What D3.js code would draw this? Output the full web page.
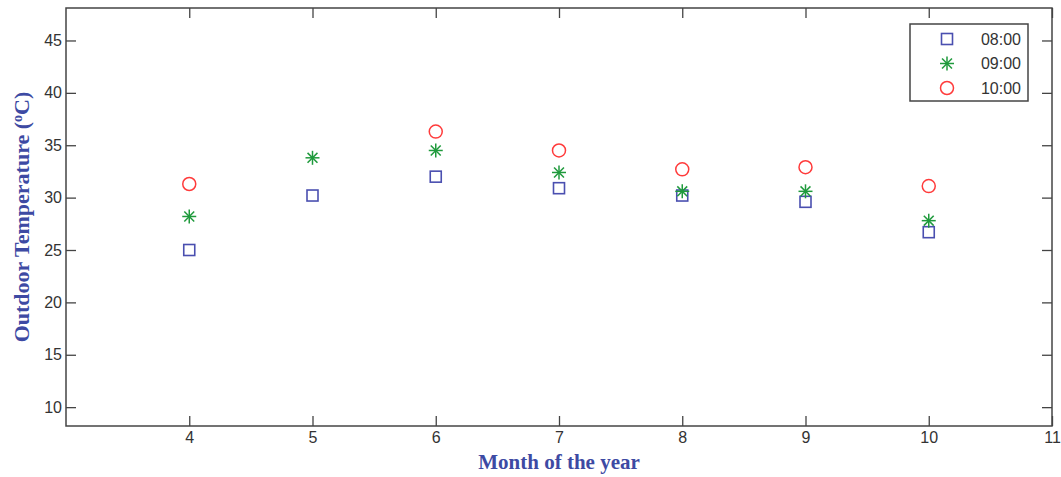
<!DOCTYPE html>
<html>
<head>
<meta charset="utf-8">
<script src="https://cdn.jsdelivr.net/npm/d3@7"></script>
<style>
	body { margin: 0; background: #fff; }
	svg text { font-family: "Liberation Sans", Arial, sans-serif; }
</style>
</head>
<body>
<svg id="plot" width="1061" height="477"></svg>
<script>
// values
var months = [4, 5, 6, 7, 8, 9, 10];
var t0800 = [25.0, 30.2, 32.0, 30.9, 30.2, 29.6, 26.7];
var t0900 = [28.2, 33.8, 34.5, 32.4, 30.6, 30.6, 27.8];
var t1000 = [31.3, null, 36.3, 34.5, 32.7, 32.9, 31.1];
var xTicks = [4, 5, 6, 7, 8, 9, 10, 11];
var yTicks = [10, 15, 20, 25, 30, 35, 40, 45];
var seriesNames = ['08:00', '09:00', '10:00'];

var blue = "#4a4fb0", green = "#1f9a3c", red = "#ff3b3b";

function whenDocumentLoaded(action) {
	if (document.readyState === "loading") {
		document.addEventListener("DOMContentLoaded", action);
	} else {
		action();
	}
}

function drawMarker(g, type, x, y) {
	if (type == 0) {
		g.append("rect")
			.attr("x", x - 5.5).attr("y", y - 5.5)
			.attr("width", 11).attr("height", 11)
			.attr("fill", "none").attr("stroke", blue).attr("stroke-width", 1.6);
	} else if (type == 1) {
		var r = 7;
		for (var k = 0; k < 4; k++) {
			var a = k * Math.PI / 4;
			g.append("line")
				.attr("x1", x - r * Math.cos(a)).attr("y1", y - r * Math.sin(a))
				.attr("x2", x + r * Math.cos(a)).attr("y2", y + r * Math.sin(a))
				.attr("stroke", green).attr("stroke-width", 1.5);
		}
	} else {
		g.append("circle")
			.attr("cx", x).attr("cy", y).attr("r", 6.5)
			.attr("fill", "none").attr("stroke", red).attr("stroke-width", 1.5);
	}
}

whenDocumentLoaded(() => {
	var svg = d3.select("#plot");
	var left = 66, right = 1052, top = 8, bottom = 426;

	var xscale = d3.scaleLinear().domain([3, 11]).range([left, right]);
	var yscale = d3.scaleLinear().domain([8.2, 48.1]).range([bottom, top]);

	// frame
	svg.append("rect")
		.attr("x", left).attr("y", top)
		.attr("width", right - left).attr("height", bottom - top)
		.attr("fill", "none").attr("stroke", "#444").attr("stroke-width", 1.5);

	var axB = svg.append("g").attr("transform", "translate(0," + bottom + ")")
		.call(d3.axisBottom(xscale).tickValues(xTicks).tickSizeInner(-10).tickSizeOuter(0).tickPadding(5));
	var axT = svg.append("g").attr("transform", "translate(0," + top + ")")
		.call(d3.axisTop(xscale).tickValues(xTicks).tickSizeInner(-10).tickSizeOuter(0).tickFormat(""));
	var axL = svg.append("g").attr("transform", "translate(" + left + ",0)")
		.call(d3.axisLeft(yscale).tickValues(yTicks).tickSizeInner(-10).tickSizeOuter(0).tickPadding(4));
	var axR = svg.append("g").attr("transform", "translate(" + right + ",0)")
		.call(d3.axisRight(yscale).tickValues(yTicks).tickSizeInner(-10).tickSizeOuter(0).tickFormat(""));

	[axB, axT, axL, axR].forEach(a => {
		a.select(".domain").remove();
		a.selectAll(".tick line").attr("stroke", "#444").attr("stroke-width", 1.3);
		a.selectAll(".tick text").attr("fill", "#333").attr("font-size", 16);
	});
	axB.selectAll(".tick text").attr("dy", "0.75em");

	var data = [t0800, t0900, t1000];
	var pts = svg.append("g");
	for (var s in data) {
		for (var i = 0; i < months.length; i++) {
			if (data[s][i] == null) continue;
			drawMarker(pts, +s, xscale(months[i]), yscale(data[s][i]));
		}
	}

	// legend
	var leg = svg.append("g");
	leg.append("rect")
		.attr("x", 910).attr("y", 24).attr("width", 118).attr("height", 77)
		.attr("fill", "#fff").attr("stroke", "#444").attr("stroke-width", 1.5);
	for (var j = 0; j < seriesNames.length; j++) {
		var ly = 39 + j * 24.5;
		drawMarker(leg, j, 947, ly);
		leg.append("text")
			.attr("x", 1021).attr("y", ly).attr("dy", "0.35em")
			.attr("text-anchor", "end").attr("font-size", 16).attr("fill", "#333")
			.text(seriesNames[j]);
	}

	// axis titles
	svg.append("text")
		.attr("x", 559).attr("y", 469)
		.attr("text-anchor", "middle")
		.style("font-family", "'Liberation Serif', 'Times New Roman', serif")
		.attr("font-weight", "bold").attr("font-size", 21).attr("fill", "#3d4aa3")
		.text("Month of the year");

	var yt = svg.append("text")
		.attr("transform", "translate(29,217) rotate(-90)")
		.attr("text-anchor", "middle")
		.style("font-family", "'Liberation Serif', 'Times New Roman', serif")
		.attr("font-weight", "bold").attr("font-size", 22).attr("fill", "#3d4aa3");
	yt.append("tspan").text("Outdoor Temperature (");
	yt.append("tspan").attr("baseline-shift", "super").attr("font-size", 14).text("o");
	yt.append("tspan").text("C)");
});
</script>
</body>
</html>
